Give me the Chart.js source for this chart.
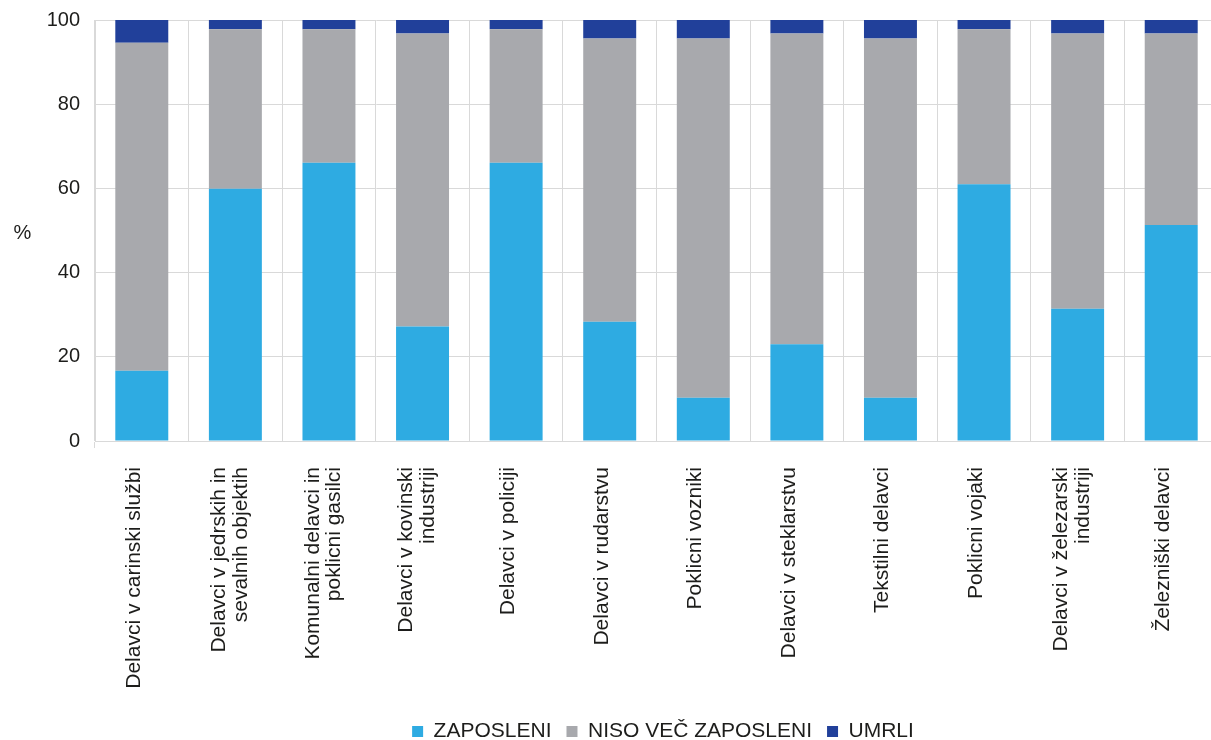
<!DOCTYPE html>
<html lang="sl">
<head>
<meta charset="utf-8">
<title>Zaposlitveni status po poklicnih skupinah</title>
<script src="https://cdn.jsdelivr.net/npm/chart.js@4/dist/chart.umd.min.js"></script>
<style>
  html, body { margin: 0; padding: 0; overflow: hidden; background: #ffffff; }
  #wrap { position: absolute; left: 0; top: -7px; width: 1218px; height: 759px; }
</style>
</head>
<body>
<div id="wrap"><canvas id="chart" width="1218" height="759"></canvas></div>
<script>
// Poklicne skupine (večvrstične oznake so podane kot seznam vrstic)
const categories = [
  "Delavci v carinski službi",
  ["Delavci v jedrskih in", "sevalnih objektih"],
  ["Komunalni delavci in", "poklicni gasilci"],
  ["Delavci v kovinski", "industriji"],
  "Delavci v policiji",
  "Delavci v rudarstvu",
  "Poklicni vozniki",
  "Delavci v steklarstvu",
  "Tekstilni delavci",
  "Poklicni vojaki",
  ["Delavci v železarski", "industriji"],
  "Železniški delavci"
];

// Deleži v odstotkih
const zaposleni      = [16.7, 59.9, 66.1, 27.2, 66.1, 28.3, 10.3, 23.0, 10.3, 61.0, 31.4, 51.3];
const nisoVecZaposl  = [77.9, 37.9, 31.7, 69.6, 31.7, 67.3, 85.3, 73.8, 85.3, 36.8, 65.4, 45.5];
const umrli          = [5.4, 2.2, 2.2, 3.2, 2.2, 4.4, 4.4, 3.2, 4.4, 2.2, 3.2, 3.2];

const seriesNames = ["ZAPOSLENI", "NISO VEČ ZAPOSLENI", "UMRLI"];
const yTicks = [0, 20, 40, 60, 80, 100];

const textColor = "#1d1d1b";
const gridColor = "#d9d9d9";

Chart.defaults.font.family = "'Liberation Sans', Arial, Helvetica, sans-serif";
Chart.defaults.color = textColor;

// Oznaka enote ob navpični osi, zapisana vodoravno
const unitLabel = {
  id: "unitLabel",
  afterDraw(chart) {
    const { ctx, chartArea } = chart;
    ctx.save();
    ctx.font = "20px 'Liberation Sans', Arial, sans-serif";
    ctx.fillStyle = textColor;
    ctx.textAlign = "center";
    ctx.textBaseline = "middle";
    ctx.fillText("%", 22.5, (chartArea.top + chartArea.bottom) / 2 + 3);
    ctx.restore();
  }
};

// Dvovrstične oznake kategorij poravna okoli sredine stolpca,
// legendo pa zamakne pod sredino risalne površine
const layoutTweaks = {
  id: "layoutTweaks",
  afterLayout(chart) {
    const lg = chart.legend;
    if (lg) { lg.left += 54; lg.right += 54; }
  },
  beforeDraw(chart) {
    const xs = chart.scales.x;
    if (!xs || typeof xs.getLabelItems !== "function") return;
    xs.getLabelItems().forEach(item => {
      if (Array.isArray(item.label) && item.label.length > 1 && !item._centred) {
        item.textOffset -= 8;
        item._centred = true;
      }
    });
  }
};

new Chart(document.getElementById("chart"), {
  type: "bar",
  data: {
    labels: categories,
    datasets: [
      { label: seriesNames[0], data: zaposleni, backgroundColor: "#2eabe2" },
      { label: seriesNames[1], data: nisoVecZaposl, backgroundColor: "#a8a9ad" },
      { label: seriesNames[2], data: umrli, backgroundColor: "#21409a" }
    ]
  },
  options: {
    responsive: false,
    animation: false,
    devicePixelRatio: 1,
    layout: { padding: { top: 13, right: 0, bottom: 0, left: 0 } },
    datasets: {
      bar: { categoryPercentage: 0.566, barPercentage: 1.0, borderWidth: 0 }
    },
    scales: {
      x: {
        stacked: true,
        grid: {
          color: gridColor,
          lineWidth: 1,
          offset: true,
          drawTicks: true,
          tickLength: 7,
          tickColor: ctx => (ctx.index === 0 ? gridColor : "rgba(0,0,0,0)")
        },
        border: { color: gridColor, width: 1 },
        ticks: {
          autoSkip: false,
          minRotation: 90,
          maxRotation: 90,
          padding: 19,
          labelOffset: -8,
          font: { size: 21, lineHeight: 1.025 },
          color: textColor
        },
        afterFit(scale) { scale.height = 265; }
      },
      y: {
        stacked: true,
        min: 0,
        max: 100,
        afterBuildTicks(scale) { scale.ticks = yTicks.map(v => ({ value: v })); },
        grid: { color: gridColor, lineWidth: 1, drawTicks: false },
        border: { color: gridColor, width: 1 },
        ticks: { padding: 15, font: { size: 20 }, color: textColor },
        afterFit(scale) { scale.width = 95; }
      }
    },
    plugins: {
      legend: {
        position: "bottom",
        labels: {
          boxWidth: 11,
          boxHeight: 11,
          padding: 15,
          font: { size: 21 },
          color: textColor
        }
      },
      tooltip: { enabled: false }
    }
  },
  plugins: [unitLabel, layoutTweaks]
});
</script>
</body>
</html>
